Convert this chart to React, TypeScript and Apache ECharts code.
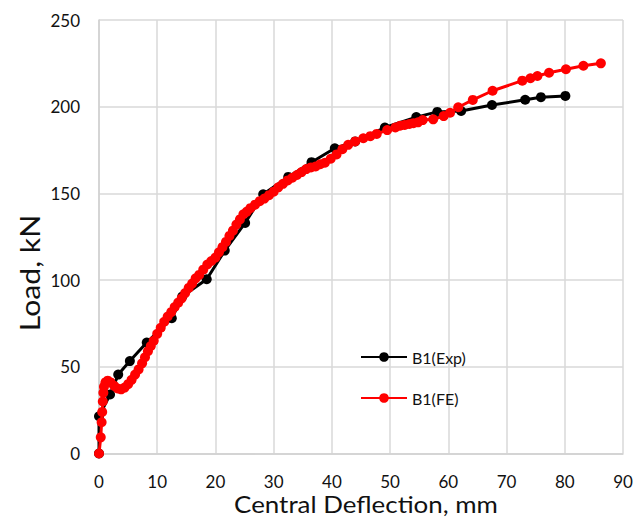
import React, { useEffect, useRef } from "react";
import * as echarts from "echarts";

const xTicks = [0, 10, 20, 30, 40, 50, 60, 70, 80, 90];
const yTicks = [0, 50, 100, 150, 200, 250];

const expDeflection = [0, 0, 1.9, 3.3, 5.3, 8.2, 12.5, 14.3, 18.5, 21.6, 25.1, 28.2, 32.5, 36.5, 40.5, 44, 49.1, 54.5, 58.1, 62.2, 67.5, 73.2, 75.9, 80.1];
const expLoad = [0, 21.5, 34, 45.5, 53.3, 64, 78, 90.5, 100.5, 117, 133, 149.5, 159.5, 168, 176, 180, 188, 194, 197, 197.5, 201, 204, 205.5, 206.2];

const feDeflection = [0, 0.3, 0.45, 0.55, 0.65, 0.75, 0.85, 1.1, 1.5, 2.0, 2.6, 3.2, 3.8, 4.4, 5.0, 5.6, 6.2, 6.8, 7.4, 7.9, 8.4, 8.9, 9.4, 10.0, 10.6, 11.2, 11.8, 12.4, 13.0, 13.6, 14.2, 14.8, 15.4, 16.0, 16.6, 17.2, 17.9, 18.6, 19.3, 20.0, 20.6, 21.2, 21.8, 22.4, 23.0, 23.6, 24.2, 24.8, 25.4, 26.0, 26.8, 27.6, 28.4, 29.2, 30.0, 30.8, 31.6, 32.4, 33.2, 34.0, 34.8, 35.6, 36.4, 37.2, 38.0, 38.8, 39.8, 40.8, 41.8, 42.8, 44.0, 45.4, 46.6, 47.7, 49.5, 50.9, 51.7, 52.5, 53.3, 54.0, 54.8, 55.6, 57.4, 59.2, 60.3, 61.7, 64.2, 67.6, 72.7, 74.1, 75.3, 77.3, 80.2, 83.2, 86.2];
const feLoad = [0, 9.3, 18, 24, 30, 35, 38.5, 41, 42, 41, 39, 37.5, 37, 38, 40, 42.5, 45.5, 48.5, 52, 55.5, 59, 62, 65, 69, 72.5, 76, 79, 81.5, 84.5, 87, 89.5, 92.5, 95.5, 98, 101, 103, 106, 109, 111, 113, 116, 119, 122, 125.5, 128.5, 132, 135, 138, 139.5, 141.5, 143.5, 145.5, 147, 149, 151, 153.5, 155.5, 157.5, 159, 160.6, 162.3, 164, 165, 165.5, 166.8, 167.7, 170, 172.5, 175.5, 178, 180, 181.8, 183, 184.3, 186.5, 188, 189, 189.5, 190, 190.5, 191, 192.3, 192.7, 194.6, 196.5, 199.7, 203.9, 209.2, 215, 216.4, 217.7, 219.6, 221.6, 223.6, 225];

const seriesNames = ["B1(Exp)", "B1(FE)"];
const xTitle = "Central Deflection, mm";
const yTitle = "Load, kN";

const FONT = "Lato, 'Open Sans', sans-serif";

export default function App() {
  const ref = useRef<HTMLDivElement>(null);
  useEffect(() => {
    document.body.style.margin = "0";
    const chart = echarts.init(ref.current!, null, { renderer: "svg" });
    const exp = expDeflection.map((x, i) => [x, expLoad[i]]);
    const fe = feDeflection.map((x, i) => [x, feLoad[i]]);
    chart.setOption({
      animation: false,
      backgroundColor: "#ffffff",
      textStyle: { fontFamily: FONT },
      grid: { left: 99, right: 21, top: 20, bottom: 64.5 },
      legend: {
        orient: "vertical",
        left: 355,
        top: 344,
        itemWidth: 46,
        itemHeight: 12,
        itemGap: 25,
        textStyle: { fontSize: 16, color: "#111", fontFamily: FONT },
        data: seriesNames,
      },
      xAxis: {
        type: "value",
        min: 0,
        max: 90,
        interval: 10,
        axisLine: { show: true, lineStyle: { color: "#d0d0d0", width: 1.5 } },
        axisTick: { show: false },
        splitLine: { show: true, lineStyle: { color: "#d9d9d9", width: 1.5 } },
        axisLabel: {
          margin: 19,
          fontSize: 17,
          color: "#111",
          fontFamily: FONT,
          customValues: xTicks,
        },
      },
      yAxis: {
        type: "value",
        min: 0,
        max: 250,
        interval: 50,
        axisLine: { show: true, lineStyle: { color: "#d0d0d0", width: 1.5 } },
        axisTick: { show: false },
        splitLine: { show: true, lineStyle: { color: "#d9d9d9", width: 1.5 } },
        axisLabel: {
          margin: 19,
          fontSize: 17,
          color: "#111",
          fontFamily: FONT,
          customValues: yTicks,
        },
      },
      graphic: [
        {
          type: "text",
          x: 366,
          y: 503,
          scaleX: 1.08,
          style: {
            text: xTitle,
            fontSize: 24,
            fill: "#111",
            fontFamily: FONT,
            align: "center",
            verticalAlign: "middle",
          },
        },
        {
          type: "text",
          x: 30,
          y: 273,
          rotation: Math.PI / 2,
          scaleX: 1.12,
          style: {
            text: yTitle,
            fontSize: 27,
            fill: "#111",
            fontFamily: FONT,
            align: "center",
            verticalAlign: "middle",
          },
        },
      ],
      series: [
        {
          name: seriesNames[0],
          type: "line",
          data: exp,
          symbol: "circle",
          symbolSize: 10,
          color: "#000000",
          lineStyle: { color: "#000000", width: 3 },
          itemStyle: { color: "#000000" },
          z: 2,
        },
        {
          name: seriesNames[1],
          type: "line",
          data: fe,
          symbol: "circle",
          symbolSize: 10,
          color: "#ff0000",
          lineStyle: { color: "#ff0000", width: 3 },
          itemStyle: { color: "#ff0000" },
          z: 3,
        },
      ],
    });
    return () => chart.dispose();
  }, []);
  return <div ref={ref} style={{ width: 644, height: 518 }} />;
}
